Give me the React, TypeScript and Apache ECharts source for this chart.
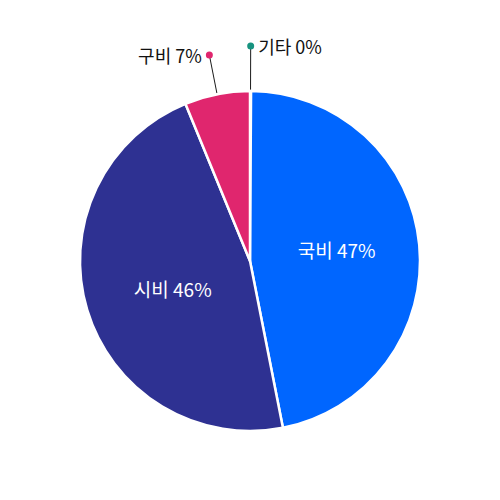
import React, { useEffect, useRef } from 'react';
import * as echarts from 'echarts';

const categories = ['기타', '국비', '시비', '구비'];
const values = [0.1, 46.8, 46.9, 6.2];
const shownPercents = [0, 47, 46, 7];

const sliceColors = ['#17937F', '#0066FF', '#2E3192', '#E0266E'];
const insideNames = ['국비', '시비'];
const insidePadding: Record<string, number[]> = { 국비: [0, 2, 7, 0], 시비: [4, 0, 0, 14] };
const lineLengths: Record<string, number> = { 기타: 45, 구비: 40 };

export default function App() {
  const ref = useRef<HTMLDivElement>(null);
  useEffect(() => {
    document.body.style.margin = '0';
    const chart = echarts.init(ref.current!, null, { renderer: 'svg' });
    const font = "'Noto Sans CJK KR', 'Noto Sans', sans-serif";
    const total = values.reduce((a, b) => a + b, 0);
    let cum = 0;
    const main = categories.map((name, i) => {
      const mid = (cum + values[i] / 2) / total;
      cum += values[i];
      const text = `${name} ${shownPercents[i]}%`;
      const color = sliceColors[i];
      if (insideNames.includes(name)) {
        return {
          name,
          value: values[i],
          itemStyle: { color },
          label: {
            show: true,
            position: 'inside',
            formatter: `{a|${text}}`,
            rich: {
              a: {
                color: '#fff',
                fontSize: 19,
                fontFamily: font,
                padding: insidePadding[name],
              },
            },
          },
          labelLine: { show: false },
        };
      }
      const rightSide = mid < 0.5;
      return {
        name,
        value: values[i],
        itemStyle: { color },
        label: {
          show: true,
          position: 'outside',
          distanceToLabelLine: -3.5,
          formatter: rightSide ? `{dot| }{sp| }{t|${text}}` : `{t|${text}}{sp| }{dot| }`,
          rich: {
            t: { fontSize: 18, color: '#111', fontFamily: font },
            sp: { width: 4, fontSize: 1 },
            dot: { width: 7, height: 7, borderRadius: 3.5, backgroundColor: color, fontSize: 1 },
          },
        },
        labelLine: {
          show: true,
          length: lineLengths[name],
          length2: 0,
          smooth: false,
          lineStyle: { color: '#1a1a1a', width: 1 },
        },
      };
    });
    const overlay = categories.map((name, i) => {
      const on = name === '구비';
      return {
        name,
        value: values[i],
        label: on
          ? { show: true, position: 'outside', formatter: ' ', color: 'transparent' }
          : { show: false },
        labelLine: on
          ? { show: true, length: 14, length2: 0, smooth: false, lineStyle: { color: '#fff', width: 1 } }
          : { show: false },
      };
    });
    chart.setOption({
      animation: false,
      series: [
        {
          type: 'pie',
          center: [250, 261],
          radius: 170,
          startAngle: 90,
          clockwise: true,
          avoidLabelOverlap: false,
          itemStyle: { borderColor: '#fff', borderWidth: 2.5 },
          emphasis: { disabled: true },
          data: main,
        },
        {
          type: 'pie',
          center: [250, 261],
          radius: 156,
          startAngle: 90,
          clockwise: true,
          silent: true,
          avoidLabelOverlap: false,
          itemStyle: { color: 'transparent', borderWidth: 0 },
          emphasis: { disabled: true },
          data: overlay,
        },
      ],
    });
    return () => chart.dispose();
  }, []);
  return <div ref={ref} style={{ width: 500, height: 500 }} />;
}
